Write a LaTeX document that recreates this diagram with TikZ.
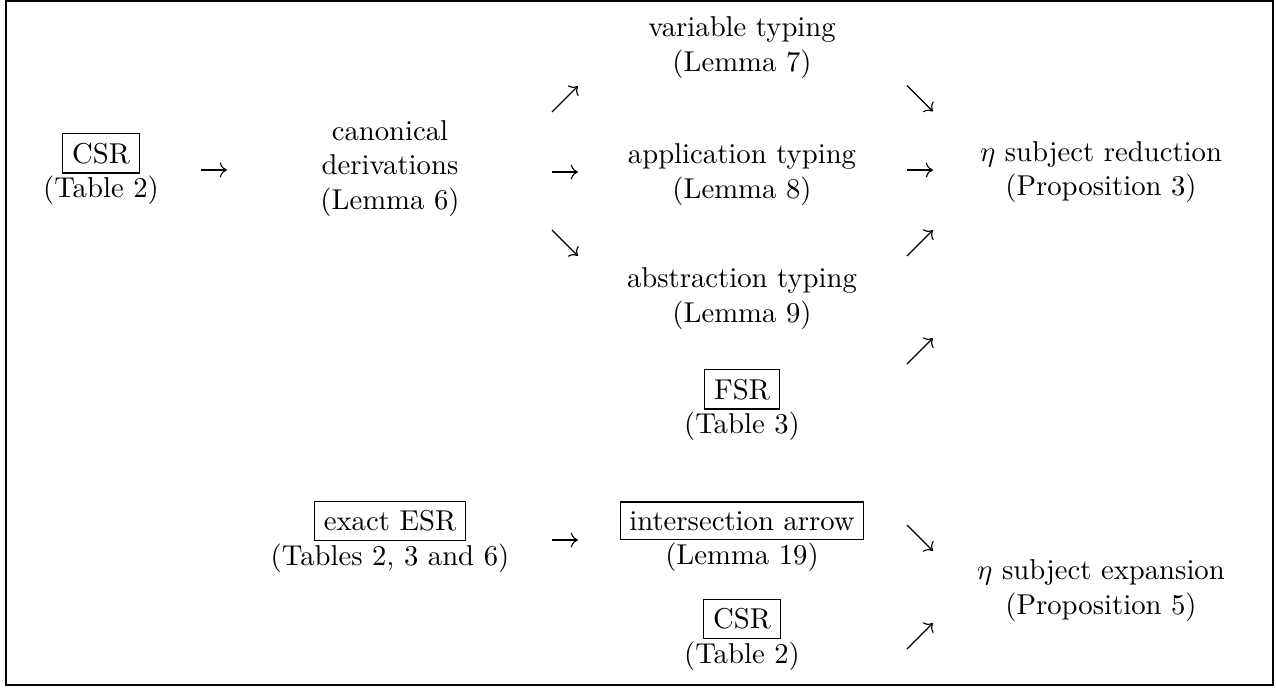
\documentclass[tikz,border=0pt]{standalone}
\usetikzlibrary{arrows.meta}
\tikzset{>={Computer Modern Rightarrow}}

\begin{document}
\begin{tikzpicture}[x=0.3484pt,y=-0.3484pt,
   every node/.style={align=center,inner sep=0pt},
   hook/.style={coordinate},
]
\useasboundingbox (0,0) rectangle (1276,687);
\draw (6,1) rectangle (1273,685);

% eta reduction part
\node (csr) at (101,169) {\fbox{CSR}\\(Table 2)};
\node (canon) at (390,168.5) {canonical\\derivations\\(Lemma 6)};
\node (vartype) at (742,47.5) {variable typing\\(Lemma 7)};
\node (apptype) at (742,174.5) {application typing\\(Lemma 8)};
\node (abstype) at (742,298.5) {abstraction typing\\(Lemma 9)};
\node (fsr) at (742,405) {\fbox{FSR}\\(Table 3)};
\node (etared) at (1101,172) {$\eta$ subject reduction\\(Proposition 3)};

% eta expansion part
\node (esr) at (390,536.5) {\fbox{exact ESR}\\(Tables 2, 3 and 6)};
\node (inter) at (742,536.5) {\fbox{intersection arrow}\\(Lemma 19)};
\node (csrtwo) at (742,634.5) {\fbox{CSR}\\(Table 2)};
\node (etaexp) at (1101,590.5) {$\eta$ subject expansion\\(Proposition 5)};

% arrows
\node[hook] (a1) at (214,170) {};
\node[hook] (a2) at (565,99) {};
\node[hook] (a3) at (565,172) {};
\node[hook] (a4) at (565,243) {};
\node[hook] (a5) at (920,98.5) {};
\node[hook] (a6) at (920,170) {};
\node[hook] (a7) at (920,243) {};
\node[hook] (a8) at (920,351) {};
\node[hook] (a9) at (565,540) {};
\node[hook] (a10) at (920,538) {};
\node[hook] (a11) at (920,636) {};

\draw[->] ([xshift=-4.5pt]a1) -- ([xshift=4.5pt]a1);
\draw[->] ([shift={(-4.5pt,-4.5pt)}]a2) -- ([shift={(4.5pt,4.5pt)}]a2);
\draw[->] ([xshift=-4.5pt]a3) -- ([xshift=4.5pt]a3);
\draw[->] ([shift={(-4.5pt,4.5pt)}]a4) -- ([shift={(4.5pt,-4.5pt)}]a4);
\draw[->] ([shift={(-4.5pt,4.5pt)}]a5) -- ([shift={(4.5pt,-4.5pt)}]a5);
\draw[->] ([xshift=-4.5pt]a6) -- ([xshift=4.5pt]a6);
\draw[->] ([shift={(-4.5pt,-4.5pt)}]a7) -- ([shift={(4.5pt,4.5pt)}]a7);
\draw[->] ([shift={(-4.5pt,-4.5pt)}]a8) -- ([shift={(4.5pt,4.5pt)}]a8);
\draw[->] ([xshift=-4.5pt]a9) -- ([xshift=4.5pt]a9);
\draw[->] ([shift={(-4.5pt,4.5pt)}]a10) -- ([shift={(4.5pt,-4.5pt)}]a10);
\draw[->] ([shift={(-4.5pt,-4.5pt)}]a11) -- ([shift={(4.5pt,4.5pt)}]a11);
\end{tikzpicture}
\end{document}
